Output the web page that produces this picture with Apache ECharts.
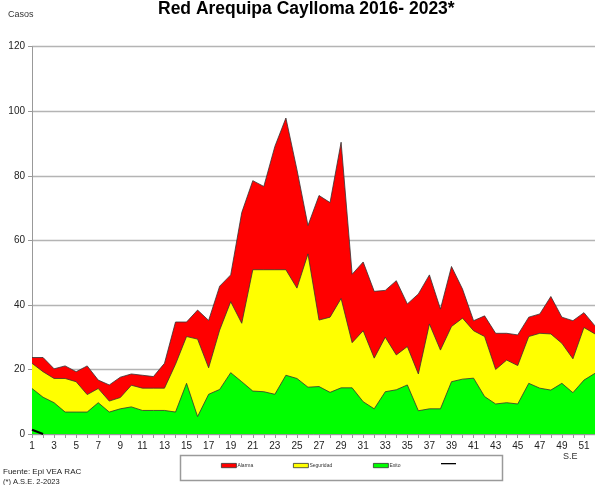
<!DOCTYPE html>
<html>
<head>
<meta charset="utf-8">
<title>Red Arequipa Caylloma</title>
<script src="https://cdn.jsdelivr.net/npm/echarts@6.0.0/dist/echarts.min.js"></script>
<style>
html, body { margin: 0; padding: 0; background: #fff; }
#chart { width: 595px; height: 485px; }
</style>
</head>
<body>
<div id="chart"></div>
<script>
// semanas epidemiologicas
var semanas = ['1','2','3','4','5','6','7','8','9','10','11','12','13','14','15','16','17','18','19','20',
  '21','22','23','24','25','26','27','28','29','30','31','32','33','34','35','36','37','38','39','40',
  '41','42','43','44','45','46','47','48','49','50','51','52'];

// canal endemico (limites acumulados)
var alarma = [23.7, 23.7, 20.2, 21.1, 19.3, 21.1, 16.7, 15.2, 17.6, 18.6, 18.2, 17.8, 21.9, 34.7, 34.7, 38.4, 35.2, 45.8, 49.3, 68.6,
  78.5, 76.7, 89.1, 97.9, 81.9, 64.6, 73.9, 71.7, 90.4, 49.5, 53.3, 44.2, 44.5, 47.5, 40.3, 43.4, 49.3, 38.7, 51.9, 44.9,
  35.1, 36.6, 31.2, 31.2, 30.7, 36.2, 37.2, 42.6, 36.2, 35.1, 37.6, 33.5];
var seguridad = [21.9, 19.3, 17.2, 17.2, 16.2, 12.2, 14.1, 10.2, 11.3, 15.1, 14.2, 14.2, 14.2, 21.6, 30.2, 29.4, 20.5, 32.2, 41.0, 34.3,
  50.9, 50.9, 50.9, 50.9, 45.2, 55.8, 35.3, 36.2, 42.0, 28.3, 32.0, 23.5, 30.0, 24.5, 27.1, 18.6, 34.1, 26.0, 33.3, 35.9,
  32.0, 30.2, 20.0, 22.9, 21.2, 30.2, 31.2, 31.0, 28.1, 23.3, 33.0, 31.0];
var exito = [14.1, 11.4, 9.7, 6.8, 6.8, 6.8, 9.7, 6.8, 7.8, 8.4, 7.3, 7.3, 7.3, 6.8, 15.7, 5.4, 12.3, 13.8, 19.0, 16.2,
  13.3, 13.1, 12.3, 18.2, 17.2, 14.5, 14.7, 12.9, 14.3, 14.3, 10.0, 7.8, 13.1, 13.7, 15.2, 7.2, 7.8, 7.8, 16.2, 17.0,
  17.3, 11.6, 9.3, 9.7, 9.3, 15.7, 14.2, 13.6, 15.7, 12.8, 16.7, 18.8];
// casos 2023 (hasta SE 2)
var casos2023 = [1.3, 0];

var fuente = "'Liberation Sans', Arial, sans-serif";

var chart = echarts.init(document.getElementById('chart'));

function area(name, data, color) {
  return {
    name: name,
    type: 'line',
    data: data,
    symbol: 'none',
    smooth: false,
    lineStyle: { color: '#333', width: 0.8 },
    itemStyle: { color: color, borderColor: '#333', borderWidth: 0.5 },
    areaStyle: { color: color, opacity: 1 },
    animation: false
  };
}

function legendAt(name, left, h) {
  return {
    data: [name],
    left: left,
    top: 463,
    padding: 0,
    itemWidth: 15,
    itemHeight: h,
    itemGap: 0,
    icon: 'rect',
    selectedMode: false,
    itemStyle: name === '2023' ? { borderWidth: 0 } : { borderColor: '#333', borderWidth: 0.8 },
    formatter: function (n) { return n === '2023' ? '' : n; },
    textStyle: { fontSize: 5, color: '#333', fontFamily: fuente, padding: [0, 0, 0, -4] }
  };
}

function texto(t, left, top, size, extra) {
  var s = { text: t, left: left, top: top, padding: 0,
    textStyle: { fontSize: size, fontWeight: 'normal', color: '#222', fontFamily: fuente } };
  if (extra) for (var k in extra) s.textStyle[k] = extra[k];
  return s;
}

var option = {
  backgroundColor: '#fff',
  animation: false,
  title: [
    texto('Red Arequipa Caylloma 2016- 2023*', 158, 0, 17.5, { fontWeight: 'bold', color: '#000' }),
    texto('Casos', 8, 10.5, 9, { color: '#333' }),
    texto('S.E', 563, 452, 9, { color: '#333' }),
    texto('Fuente: Epi VEA RAC', 3, 467.5, 8),
    texto('(*) A.S.E. 2-2023', 3, 478, 7.5)
  ],
  grid: { left: 32, top: 46.7, width: 566, height: 387.3, containLabel: false },
  legend: [
    legendAt('Alarma', 221, 4.3),
    legendAt('Seguridad', 293, 4.3),
    legendAt('Exito', 373, 4.3),
    legendAt('2023', 441, 1.3)
  ],
  graphic: [
    { type: 'rect', left: 178, top: 453, shape: { width: 322, height: 25 },
      style: { fill: 'none', stroke: '#9a9a9a', lineWidth: 1.5 }, z: 10 }
  ],
  xAxis: {
    type: 'category',
    data: semanas,
    boundaryGap: false,
    axisLine: { lineStyle: { color: '#999', width: 1 } },
    axisTick: { show: true, interval: 0, length: 4, lineStyle: { color: '#999' } },
    axisLabel: { interval: 1, fontSize: 10, color: '#222', margin: 7, fontFamily: fuente },
    splitLine: { show: false }
  },
  yAxis: {
    type: 'value',
    min: 0,
    max: 120,
    interval: 20,
    axisLine: { show: true, lineStyle: { color: '#999', width: 1 } },
    axisTick: { show: true, length: 4, lineStyle: { color: '#999' } },
    axisLabel: { fontSize: 10, color: '#222', margin: 7, fontFamily: fuente },
    splitLine: { lineStyle: { color: '#b4b4b4', width: 1.3 } }
  },
  series: [
    area('Alarma', alarma, '#ff0000'),
    area('Seguridad', seguridad, '#ffff00'),
    area('Exito', exito, '#00ff00'),
    {
      name: '2023',
      type: 'line',
      data: casos2023,
      symbol: 'none',
      lineStyle: { color: '#000', width: 2 },
      itemStyle: { color: '#000' },
      z: 5
    }
  ]
};

chart.setOption(option);
</script>
</body>
</html>
